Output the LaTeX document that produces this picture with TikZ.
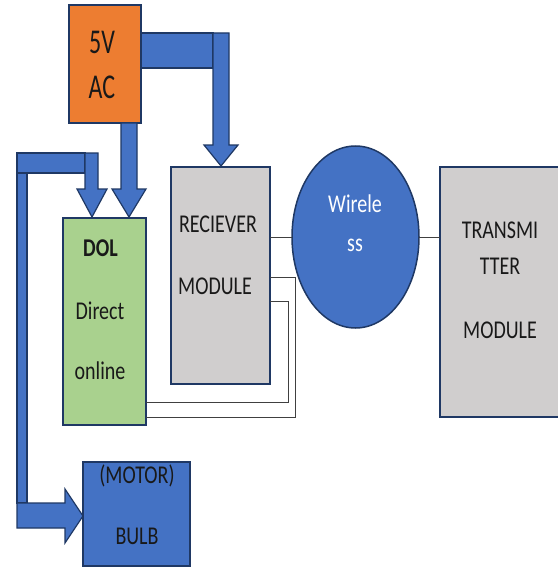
\documentclass[tikz,border=0pt]{standalone}
\usepackage{fontspec}
\setmainfont{Carlito}
\usepackage{graphicx}
\usetikzlibrary{shapes.geometric}

\definecolor{boxline}{HTML}{1F3864}
\definecolor{acorange}{HTML}{ED7D31}
\definecolor{dolgreen}{HTML}{A9D18E}
\definecolor{modgray}{HTML}{D0CECE}
\definecolor{pwrblue}{HTML}{4472C4}

\newcommand{\tallt}[2][1.28]{\scalebox{1}[#1]{#2}}

\tikzset{every picture/.style={line width=1.5pt}}
\tikzset{
  blk/.style={draw=boxline, inner sep=0pt, outer sep=0pt},
  lbl/.style={inner sep=0pt, font=\fontsize{20}{24}\selectfont, text=black!90},
  pwr/.style={fill=pwrblue, draw=boxline, line width=1.2pt, line join=miter},
  wire/.style={draw=black!75, line width=0.9pt},
}

\begin{document}
\begin{tikzpicture}[x=1pt,y=1pt,yscale=-1]
\useasboundingbox (0,0) rectangle (557,567);

%Boxes
\node[blk, fill=acorange, minimum width=72pt, minimum height=118pt] (ac) at (105,64) {};
\node[blk, fill=dolgreen, minimum width=83pt, minimum height=207pt] (dol) at (104.5,321.5) {};
\node[blk, fill=modgray, minimum width=99pt, minimum height=217pt] (rx) at (220.5,275.5) {};
\node[blk, ellipse, fill=pwrblue, minimum width=127pt, minimum height=182pt] (wl) at (355.5,237) {};
\node[blk, fill=modgray, minimum width=122pt, minimum height=250pt] (tx) at (501,292) {};
\node[blk, fill=pwrblue, minimum width=107pt, minimum height=104pt] (bulb) at (136.5,514) {};

%Power arrows
% 5V AC to receiver
\draw[pwr] (141,33) -- (213,33) -- (213,68) -- (141,68) -- cycle;
\draw[pwr] (213,33) -- (229,33) -- (229,145) -- (238,145) -- (221,166) -- (204,145) -- (213,145) -- cycle;
% 5V AC to DOL
\draw[pwr] (121,123) -- (137,123) -- (137,189) -- (146,189) -- (129,217) -- (112,189) -- (121,189) -- cycle;
% loop to DOL and bulb
\draw[pwr] (17,153) -- (85,153) -- (85,173) -- (17,173) -- cycle;
\draw[pwr] (85,153) -- (98,153) -- (98,189) -- (107,189) -- (92,217) -- (77,189) -- (85,189) -- cycle;
\draw[pwr] (17,173) -- (27,173) -- (27,503) -- (17,503) -- cycle;
\draw[pwr] (17,503) -- (65,503) -- (65,489) -- (83,516) -- (65,543) -- (65,528) -- (17,528) -- cycle;

%Wires
\draw[wire] (wl.west -| rx.east) -- (wl.west);
\draw[wire] (wl.east) -- (wl.east -| tx.west);
\coordinate (w1) at (295,417);
\coordinate (w2) at (288,402);
\draw[wire] ([yshift=1.5pt]rx.east) -| (w1) -- (w1 -| dol.east);
\draw[wire] ([yshift=25.5pt]rx.east) -| (w2) -- (w2 -| dol.east);

% Text Node
\node[lbl, font=\fontsize{24}{28}\selectfont] (t5v) at (102,42.5) {\tallt[1.45]{5V}};
\node[lbl, font=\fontsize{24}{28}\selectfont] (tac) at (102,87) {\tallt[1.45]{AC}};
% Text Node
\node[lbl, font=\fontsize{20}{24}\selectfont\bfseries] (tdol) at (100.5,248.5) {\tallt{DOL}};
\node[lbl] (tdir) at (100,311) {\tallt{Direct}};
\node[lbl] (tonl) at (100,371) {\tallt{online}};
% Text Node
\node[lbl] (trx1) at (218,224.5) {\tallt{RECIEVER}};
\node[lbl] (trx2) at (215,286.5) {\tallt{MODULE}};
% Text Node
\node[lbl, text=white] (twl1) at (355,203.5) {\tallt{Wirele}};
\node[lbl, text=white] (twl2) at (355,245) {\tallt{ss}};
% Text Node
\node[lbl] (ttx1) at (500,230) {\tallt{TRANSMI}};
\node[lbl] (ttx2) at (500,266.5) {\tallt{TTER}};
\node[lbl] (ttx3) at (500,330) {\tallt{MODULE}};
% Text Node
\node[lbl] (tb1) at (137,476) {\tallt{(MOTOR)}};
\node[lbl] (tb2) at (137,536.5) {\tallt{BULB}};
\end{tikzpicture}
\end{document}
